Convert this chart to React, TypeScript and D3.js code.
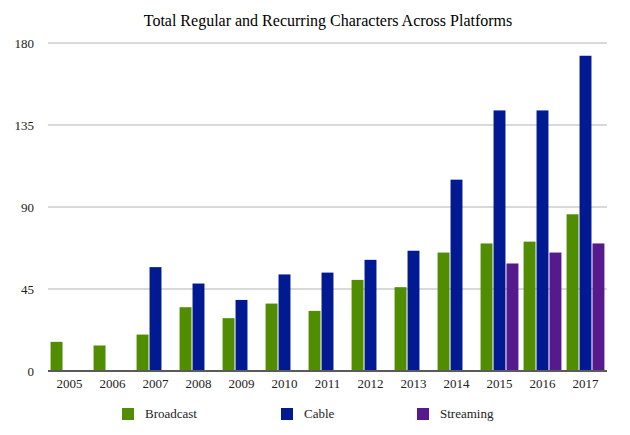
import React from "react";
import * as d3 from "d3";

const years = ["2005","2006","2007","2008","2009","2010","2011","2012","2013","2014","2015","2016","2017"];
const seriesNames = ["Broadcast", "Cable", "Streaming"];
const broadcast = [16, 14, 20, 35, 29, 37, 33, 50, 46, 65, 70, 71, 86];
const cable = [0, 0, 57, 48, 39, 53, 54, 61, 66, 105, 143, 143, 173];
const streaming = [0, 0, 0, 0, 0, 0, 0, 0, 0, 0, 59, 65, 70];
const yTicks = [0, 45, 90, 135, 180];
const colors = ["#518d00", "#021a91", "#551b8c"];
const title = "Total Regular and Recurring Characters Across Platforms";

const W = 630, H = 435;
const left = 48, right = 607, top = 43, bottom = 371;
const font = "'Liberation Serif', 'Times New Roman', serif";

export default function App() {
  const values = [broadcast, cable, streaming];
  const x = d3.scaleBand<string>().domain(years).range([left, right]).paddingInner(0.12).paddingOuter(0.06);
  const xs = d3.scaleBand<string>().domain(seriesNames).range([0, x.bandwidth()]).paddingInner(0.08);
  const y = d3.scaleLinear().domain([0, 180]).range([bottom, top]);

  const legendX = [122, 281, 417];

  return (
    <svg width={W} height={H} style={{ position: "absolute", left: 0, top: 0, background: "#fff" }} fontFamily={font}>
      <rect x={0} y={0} width={W} height={H} fill="#fff" />
      <text x={328} y={26} textAnchor="middle" fontSize={16} fill="#000">{title}</text>
      {yTicks.map((t) => (
        <g key={t}>
          {t !== 0 && <line x1={left} x2={right} y1={y(t)} y2={y(t)} stroke="#cccccc" strokeWidth={1.5} />}
          <text x={34} y={y(t)} dy="0.35em" textAnchor="end" fontSize={13} fill="#222">{t}</text>
        </g>
      ))}
      {years.map((yr, i) => (
        <g key={yr}>
          {seriesNames.map((s, j) => {
            const v = values[j][i];
            if (!v) return null;
            return (
              <rect key={s} x={(x(yr) as number) + (xs(s) as number)} y={y(v)} width={xs.bandwidth()} height={bottom - y(v)} fill={colors[j]} />
            );
          })}
          <text x={(x(yr) as number) + x.bandwidth() / 2} y={388} textAnchor="middle" fontSize={13} fill="#222">{yr}</text>
        </g>
      ))}
      <line x1={left} x2={right} y1={bottom} y2={bottom} stroke="#5a5a5a" strokeWidth={2} />
      {seriesNames.map((s, j) => (
        <g key={s}>
          <rect x={legendX[j]} y={408} width={12} height={12} fill={colors[j]} />
          <text x={legendX[j] + 23} y={418} fontSize={13} fill="#222">{s}</text>
        </g>
      ))}
    </svg>
  );
}
